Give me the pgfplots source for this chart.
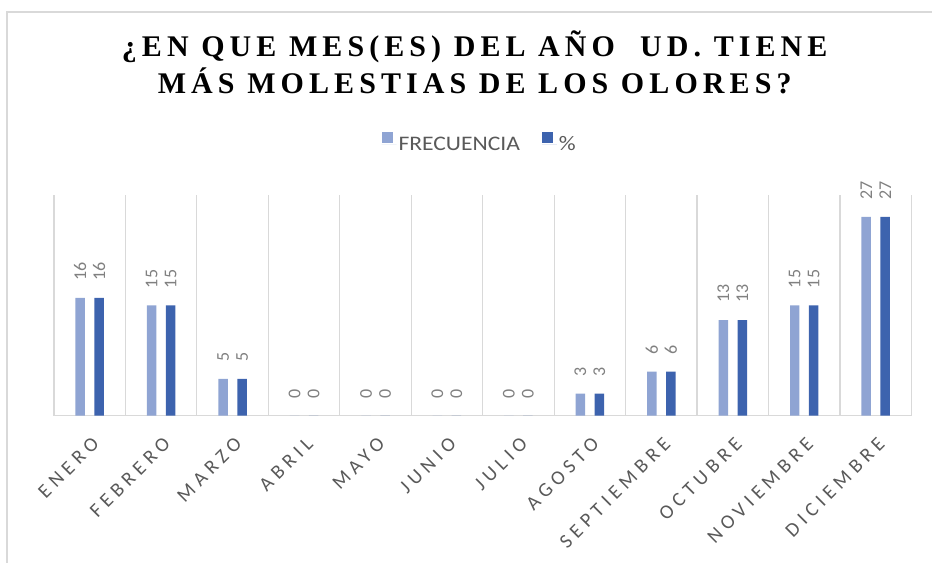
\documentclass[border=0pt]{standalone}
\usepackage{fontspec}
\setmainfont{Carlito}
\newfontfamily\titlefont{Liberation Serif}[LetterSpace=17]
\newfontfamily\legfont{Carlito}[FakeStretch=1.14]
\newfontfamily\tickfont{Carlito}[LetterSpace=25]
\usepackage{pgfplots}
\usepackage{pgfplotstable}
\pgfplotsset{compat=1.18}

\definecolor{frecblue}{RGB}{143,164,211}
\definecolor{pctblue}{RGB}{61,99,174}
\definecolor{gridgray}{RGB}{217,217,217}
\definecolor{txtgray}{RGB}{89,89,89}
\definecolor{lblgray}{RGB}{128,128,128}

% mes, frecuencia, porcentaje
\pgfplotstableread{
idx frec pct
0  16 16
1  15 15
2  5  5
3  0  0
4  0  0
5  0  0
6  0  0
7  3  3
8  6  6
9  13 13
10 15 15
11 27 27
}\datos

\begin{document}
\begin{tikzpicture}
\begin{axis}[
    at={(0,0)}, anchor=south west,
    scale only axis,
    width=858bp, height=221bp,
    ybar=9.5bp, bar width=9.5bp,
    xmin=-0.5, xmax=11.5,
    ymin=0, ymax=30,
    axis x line*=bottom, axis y line=none,
    x axis line style={draw=gridgray, line width=1.2bp},
    xtick={0,...,11},
    xticklabels={ENERO,FEBRERO,MARZO,ABRIL,MAYO,JUNIO,JULIO,AGOSTO,SEPTIEMBRE,OCTUBRE,NOVIEMBRE,DICIEMBRE},
    minor xtick={-0.5,0.5,...,11.5},
    xminorgrids,
    minor grid style={draw=gridgray, line width=1.2bp},
    major tick length=0pt, minor tick length=0pt,
    ytick=\empty,
    xticklabel style={xshift=1bp, yshift=-20bp, rotate=45, anchor=north east, inner sep=0pt,
        font=\tickfont\fontsize{20bp}{24bp}\selectfont, text=txtgray},
    nodes near coords,
    /pgf/number format/assume math mode=true,
    every node near coord/.append style={rotate=90, anchor=west, inner xsep=17bp, inner ysep=0pt,
        font=\fontsize{18bp}{21bp}\selectfont, text=lblgray},
    legend columns=2,
    legend style={at={(0.4965,1.235)}, anchor=center, draw=none, fill=none,
        font=\legfont\fontsize{20.7bp}{24bp}\selectfont, text=txtgray,
        /tikz/every even column/.append style={column sep=20bp}},
    legend image code/.code={\fill[#1] (0bp,1bp) rectangle (11bp,12bp); \path (0bp,0bp) -- (15bp,0bp);},
]
\addplot[fill=frecblue, draw=none] table[x=idx, y=frec] {\datos};
\addlegendentry{FRECUENCIA}
\addplot[fill=pctblue, draw=none] table[x=idx, y=pct] {\datos};
\addlegendentry{\%}
\end{axis}
\node[anchor=base, font=\titlefont\bfseries\fontsize{30bp}{36bp}\selectfont] at (421bp,359bp) {¿EN QUE MES(ES) DEL AÑO\ \ UD. TIENE};
\node[anchor=base, font=\titlefont\bfseries\fontsize{30bp}{36bp}\selectfont] at (421bp,322.5bp) {MÁS MOLESTIAS DE LOS OLORES?};
\draw[gridgray, line width=1.2bp] (-47bp,-147bp) -- (-47bp,404bp) -- (879bp,404bp);
\useasboundingbox (-54bp,-147bp) rectangle (879bp,416bp);
\end{tikzpicture}
\end{document}
